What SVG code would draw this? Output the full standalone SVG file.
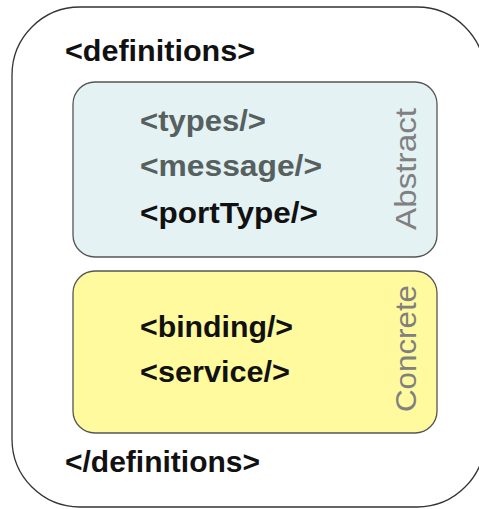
<svg xmlns="http://www.w3.org/2000/svg" width="479" height="509" viewBox="0 0 479 509">
<style>
.t{font-family:"Liberation Sans",Arial,sans-serif;font-size:29px;font-weight:bold;stroke-width:0}
.blk{fill:#111}
.gry{fill:#56605f}
.lbl{font-family:"Liberation Sans",Arial,sans-serif;font-size:29px;fill:#808080}
.box{stroke:#555;stroke-width:1.3}
</style>
<g id="definitions">
<rect x="12" y="7" width="473" height="500" rx="68" ry="68" fill="#fff" stroke="#333" stroke-width="1.3"/>
<text class="t blk" x="65" y="61" textLength="190" lengthAdjust="spacingAndGlyphs">&lt;definitions&gt;</text>
<text class="t blk" x="65" y="472" textLength="195" lengthAdjust="spacingAndGlyphs">&lt;/definitions&gt;</text>
</g>
<g id="abstract">
<rect class="box" x="73" y="82" width="364" height="175" rx="22" ry="22" fill="#e4f2f4"/>
<text class="t gry" x="140" y="131" textLength="126" lengthAdjust="spacingAndGlyphs">&lt;types/&gt;</text>
<text class="t gry" x="140" y="176" textLength="182" lengthAdjust="spacingAndGlyphs">&lt;message/&gt;</text>
<text class="t blk" x="140" y="223" textLength="178" lengthAdjust="spacingAndGlyphs">&lt;portType/&gt;</text>
<text class="lbl" transform="translate(416,230) rotate(-90)" textLength="122" lengthAdjust="spacingAndGlyphs">Abstract</text>
</g>
<g id="concrete">
<rect class="box" x="73" y="271" width="364" height="162" rx="22" ry="22" fill="#fffa9e"/>
<text class="t blk" x="140" y="337" textLength="153" lengthAdjust="spacingAndGlyphs">&lt;binding/&gt;</text>
<text class="t blk" x="140" y="382" textLength="150" lengthAdjust="spacingAndGlyphs">&lt;service/&gt;</text>
<text class="lbl" transform="translate(416,412) rotate(-90)" textLength="127" lengthAdjust="spacingAndGlyphs">Concrete</text>
</g>
<g id="connectors"/>
</svg>
